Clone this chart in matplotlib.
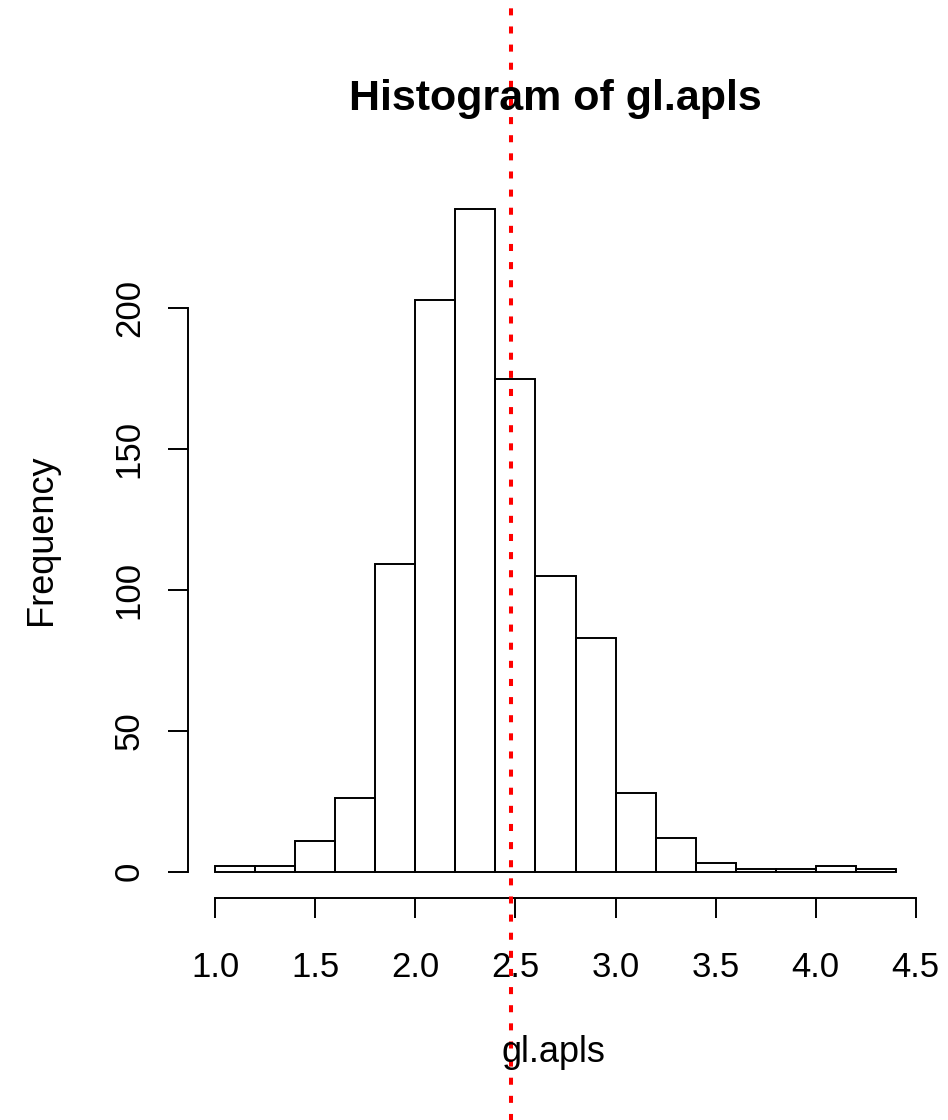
import numpy as np
import matplotlib.pyplot as plt

# histogram of gl.apls, bin width 0.2
bin_edges = [1.0, 1.2, 1.4, 1.6, 1.8, 2.0, 2.2, 2.4, 2.6, 2.8, 3.0,
             3.2, 3.4, 3.6, 3.8, 4.0, 4.2, 4.4]
counts = [2, 2, 11, 26, 109, 203, 235, 175, 105, 83, 28, 12, 3, 1, 1, 2, 1]
mean_val = 2.478
x_ticks = [1.0, 1.5, 2.0, 2.5, 3.0, 3.5, 4.0, 4.5]
y_ticks = [0, 50, 100, 150, 200]

plt.rcParams['font.family'] = ['Liberation Sans', 'DejaVu Sans']

W, H = 948, 1120
fig = plt.figure(figsize=(W / 100, H / 100), dpi=100)
ax = fig.add_axes([188 / W, 1 - 898 / H, (923 - 188) / W, (898 - 183) / H])

ax.bar(bin_edges[:-1], counts, width=np.diff(bin_edges), align='edge',
       fill=False, edgecolor='black', linewidth=1.4)

ax.set_xlim(0.864, 4.536)
ax.set_ylim(-9.4, 244.4)

for s in ['top', 'right']:
    ax.spines[s].set_visible(False)
ax.spines['left'].set_bounds(0, 200)
ax.spines['bottom'].set_bounds(1.0, 4.5)
for s in ['left', 'bottom']:
    ax.spines[s].set_linewidth(1.4)

ax.set_xticks(x_ticks)
ax.set_xticklabels(['%.1f' % v for v in x_ticks])
ax.set_yticks(y_ticks)
ax.set_yticklabels([str(v) for v in y_ticks], rotation=90, va='center')
ax.tick_params(direction='out', length=14.4, width=1.4, labelsize=25)
ax.tick_params(axis='x', pad=24)
ax.tick_params(axis='y', pad=16)

# red dotted line at the mean, running through the whole figure
ax.axvline(mean_val, ymin=-1, ymax=2, clip_on=False, color='red',
           linewidth=2.9, linestyle=(0, (1.75, 2.75)), zorder=5)

fig.text(555 / W, 1 - 110 / H, 'Histogram of gl.apls', ha='center',
         va='baseline', fontsize=31, fontweight='bold')
fig.text(553 / W, 1 - 1062 / H, 'gl.apls', ha='center', va='baseline',
         fontsize=26)
fig.text(42 / W, 1 - 540 / H, 'Frequency', ha='center', va='center',
         rotation=90, fontsize=26)

fig.savefig('out.png', dpi=100)
